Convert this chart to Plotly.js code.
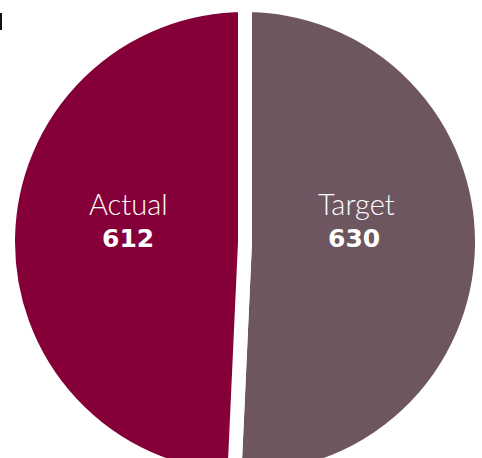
<!DOCTYPE html>
<html><head><meta charset="utf-8">
<script src="https://cdn.plot.ly/plotly-3.0.1.min.js"></script>
<style>html,body{margin:0;padding:0;overflow:hidden;background:#fff}#chart{width:482px;height:479px}</style>
</head><body><div id="chart"></div>
<script>
// ---- data ----
const labels = ['Target', 'Actual'];
const values = [630, 612];
const colors = ['#6d565f', '#850038'];

// ---- layout helpers (pixel -> paper) ----
const W = 482, H = 479, L = 8, T = 5, PW = 474, PH = 474;
function px(x){ return (x - L) / PW; }
function py(y){ return 1 - (y - T) / PH; }

const namePos  = [[356, 203], [128, 203]];
const valuePos = [[354, 238], [128, 238]];

const trace = {
  type: 'pie',
  labels: labels,
  values: values,
  sort: false,
  direction: 'clockwise',
  rotation: 0,
  hole: 0,
  textinfo: 'none',
  hoverinfo: 'skip',
  marker: { colors: colors, line: { color: '#ffffff', width: 14 } },
  domain: { x: [0, 1], y: [0, 1] }
};

const annotations = [];
labels.forEach((lab, i) => {
  annotations.push({
    xref: 'paper', yref: 'paper', x: px(namePos[i][0]), y: py(namePos[i][1]),
    xanchor: 'center', yanchor: 'middle', showarrow: false, text: lab,
    font: { family: 'Lato', weight: 300, size: 29, color: '#ffffff' }
  });
  annotations.push({
    xref: 'paper', yref: 'paper', x: px(valuePos[i][0]), y: py(valuePos[i][1]),
    xanchor: 'center', yanchor: 'middle', showarrow: false, text: String(values[i]),
    font: { family: 'DejaVu Sans', weight: 700, size: 25, color: '#ffffff' }
  });
});

const layout = {
  width: W, height: H,
  margin: { l: L, r: 0, t: T, b: H - T - PH, pad: 0 },
  showlegend: false,
  paper_bgcolor: '#ffffff',
  annotations: annotations,
  shapes: [{
    type: 'line', xref: 'paper', yref: 'paper',
    x0: px(1), x1: px(1), y0: py(13), y1: py(30),
    line: { color: '#111111', width: 2 }
  }]
};

Plotly.newPlot('chart', [trace], layout, { displayModeBar: false, staticPlot: true });
</script>
</body></html>
